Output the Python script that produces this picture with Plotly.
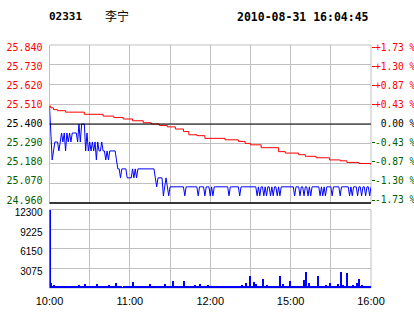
import plotly.graph_objects as go

# ---------------- data ----------------
minutes = list(range(241))  # trading minutes from 10:00 (0) to 16:00 (240)

price = [
    25.50, 25.35, 25.20, 25.25, 25.30, 25.30, 25.30, 25.25, 25.30, 25.35, 25.30, 25.35, 25.25, 25.35, 25.30, 25.35, 25.30, 25.35, 25.35, 25.35,
    25.35, 25.30, 25.40, 25.30, 25.40, 25.40, 25.40, 25.25, 25.35, 25.25, 25.30, 25.25, 25.30, 25.25, 25.30, 25.20, 25.30, 25.25, 25.25, 25.30,
    25.25, 25.25, 25.20, 25.25, 25.20, 25.25, 25.25, 25.25, 25.25, 25.25, 25.20, 25.15, 25.15, 25.10, 25.15, 25.15, 25.15, 25.15, 25.10, 25.10,
    25.10, 25.10, 25.15, 25.10, 25.15, 25.10, 25.15, 25.15, 25.15, 25.15, 25.15, 25.15, 25.15, 25.15, 25.15, 25.15, 25.15, 25.15, 25.15, 25.10,
    25.05, 25.10, 25.10, 25.10, 25.10, 25.00, 25.05, 25.10, 25.05, 25.00, 25.05, 25.05, 25.05, 25.05, 25.05, 25.05, 25.05, 25.05, 25.05, 25.05,
    25.05, 25.00, 25.05, 25.05, 25.05, 25.05, 25.05, 25.05, 25.05, 25.05, 25.05, 25.00, 25.05, 25.05, 25.05, 25.05, 25.00, 25.05, 25.05, 25.05,
    25.00, 25.05, 25.00, 25.05, 25.05, 25.05, 25.05, 25.05, 25.05, 25.05, 25.05, 25.05, 25.05, 25.05, 25.00, 25.05, 25.05, 25.05, 25.05, 25.05,
    25.05, 25.05, 25.00, 25.05, 25.05, 25.05, 25.05, 25.05, 25.05, 25.05, 25.05, 25.05, 25.05, 25.05, 25.05, 25.00, 25.05, 25.00, 25.05, 25.05,
    25.00, 25.05, 25.00, 25.05, 25.05, 25.00, 25.05, 25.00, 25.05, 25.05, 25.00, 25.05, 25.00, 25.05, 25.05, 25.05, 25.05, 25.05, 25.05, 25.05,
    25.05, 25.05, 25.05, 25.00, 25.05, 25.05, 25.05, 25.00, 25.05, 25.05, 25.00, 25.05, 25.05, 25.00, 25.05, 25.00, 25.05, 25.05, 25.05, 25.05,
    25.05, 25.05, 25.00, 25.05, 25.00, 25.05, 25.00, 25.05, 25.05, 25.05, 25.05, 25.00, 25.05, 25.05, 25.05, 25.05, 25.05, 25.00, 25.05, 25.05,
    25.05, 25.05, 25.05, 25.05, 25.00, 25.05, 25.00, 25.05, 25.05, 25.05, 25.00, 25.05, 25.05, 25.00, 25.05, 25.05, 25.00, 25.05, 25.05, 25.00,
    25.05,
]

avg_minutes = [0, 1, 3, 6, 12, 26, 40, 48, 55, 62, 70, 76, 82, 88, 94, 100, 104, 110, 116,
               131, 141, 146, 150, 158, 171, 176, 186, 191, 199, 209, 217, 222, 231, 240]
avg_price = [25.500, 25.490, 25.480, 25.474, 25.466, 25.454, 25.444, 25.436, 25.428, 25.418,
             25.407, 25.400, 25.392, 25.384, 25.372, 25.358, 25.340, 25.335, 25.320, 25.312,
             25.303, 25.292, 25.284, 25.268, 25.246, 25.238, 25.229, 25.220, 25.212, 25.200,
             25.195, 25.186, 25.180, 25.172]

volume = [
    12300, 800, 450, 600, 400, 450, 350, 450, 400, 380, 450, 420, 380, 450, 400, 350, 450, 420, 380, 450,
    400, 450, 500, 400, 450, 380, 650, 420, 400, 450, 380, 450, 420, 400, 450, 700, 420, 380, 450, 400,
    450, 400, 380, 450, 500, 420, 400, 450, 380, 830, 450, 400, 380, 450, 200, 420, 450, 400, 380, 450,
    420, 400, 1000, 450, 380, 420, 450, 400, 380, 450, 420, 400, 450, 380, 420, 650, 400, 450, 380, 420,
    450, 400, 380, 450, 420, 400, 700, 450, 380, 420, 400, 450, 1250, 420, 380, 450, 400, 420, 450, 380,
    1200, 420, 400, 450, 380, 420, 450, 400, 600, 420, 380, 450, 700, 400, 420, 150, 450, 380, 500, 420,
    400, 450, 380, 420, 450, 400, 380, 450, 420, 400, 450, 380, 420, 450, 400, 380, 450, 420, 400, 450,
    380, 420, 450, 600, 400, 450, 900, 420, 380, 2000, 450, 400, 1000, 420, 700, 380, 450, 420, 400, 1550,
    450, 380, 600, 420, 450, 400, 380, 450, 420, 400, 450, 380, 1900, 420, 700, 400, 450, 380, 420, 1100,
    450, 400, 380, 450, 420, 400, 450, 380, 420, 450, 1300, 2550, 400, 800, 420, 450, 380, 400, 450, 420,
    1900, 400, 380, 450, 420, 400, 600, 450, 380, 900, 420, 400, 450, 380, 420, 700, 400, 2550, 450, 600,
    420, 400, 2400, 450, 380, 420, 600, 400, 450, 800, 420, 1450, 400, 600, 450, 380, 420, 400, 450, 380,
    420,
]

prev_close = 25.40
price_ticks = [24.96, 25.07, 25.18, 25.29, 25.40, 25.51, 25.62, 25.73, 25.84]
price_labels = ["24.960", "25.070", "25.180", "25.290", "25.400", "25.510", "25.620", "25.730", "25.840"]
pct_labels = ["-1.73 %", "-1.30 %", "-0.87 %", "-0.43 %", "0.00 %", "+0.43 %", "+0.87 %", "+1.30 %", "+1.73 %"]
vol_ticks = [3075, 6150, 9225, 12300]
vol_labels = ["3075", "6150", "9225", "12300"]
grid_minutes = [0, 30, 60, 90, 120, 150, 180, 210, 240]
time_labels = ["10:00", "", "11:00", "", "12:00", "", "15:00", "", "16:00"]

code = "02331"
name = "李宁"
stamp = "2010-08-31 16:04:45"

# ---------------- style ----------------
RED = "#ff0000"
GREEN = "#006000"
BLACK = "#000000"
GRID = "#c0c0c0"
W, H = 414, 314
x_dom = [49.5 / W, 371 / W]
p_top, p_bot = 45, 203
p_dom = [1 - p_bot / H, 1 - p_top / H]
v_dom = [1 - 288 / H, 1 - 209.5 / H]
MONO = "DejaVu Sans Mono"
prange = [price_ticks[0], price_ticks[-1]]

# label scale: the reference prints price/percent labels slightly compressed
# (top label ~2.5px below its gridline, bottom one ~3px above)
lab_top, lab_bot = p_top + 2.5, p_bot - 3.0
step = price_ticks[1] - price_ticks[0]
px_per_step = (lab_bot - lab_top) / (len(price_ticks) - 1)
lab_hi = price_ticks[-1] + (lab_top - p_top) / px_per_step * step
lab_lo = price_ticks[-1] - (p_bot - lab_top) / px_per_step * step
lab_range = [lab_lo, lab_hi]


def col(v):
    if abs(v - prev_close) < 1e-9:
        return BLACK
    return RED if v > prev_close else GREEN


left_text = [f'<span style="color:{col(v)}">{t}</span>' for v, t in zip(price_ticks, price_labels)]

fig = go.Figure()
fig.add_trace(go.Scatter(x=avg_minutes, y=avg_price, mode="lines", line=dict(color=RED, width=1, shape="hv"),
                         xaxis="x", yaxis="y", hoverinfo="skip"))
fig.add_trace(go.Scatter(x=minutes, y=price, mode="lines", line=dict(color="#0000ff", width=1),
                         xaxis="x", yaxis="y", hoverinfo="skip"))
fig.add_trace(go.Bar(x=minutes, y=volume, width=0.8, marker=dict(color="#0000ff", line=dict(width=0)),
                     xaxis="x2", yaxis="y2", hoverinfo="skip"))
# invisible carriers so the label-only axes are drawn
for ax in ("y3", "y4", "y5", "y6"):
    fig.add_trace(go.Scatter(x=minutes[:2], y=price[:2], mode="lines", line=dict(width=0, color="rgba(0,0,0,0)"),
                             opacity=0, xaxis="x", yaxis=ax, hoverinfo="skip"))

pos_i = [i for i, v in enumerate(price_ticks) if v > prev_close + 1e-9]
neg_i = [i for i, v in enumerate(price_ticks) if v < prev_close - 1e-9]
zero_i = [i for i, v in enumerate(price_ticks) if abs(v - prev_close) < 1e-9]

common_right = dict(overlaying="y", side="right", anchor="x", range=lab_range, showgrid=False, automargin=False,
                    zeroline=False, showline=False, ticks="outside", ticklen=3, tickwidth=1,
                    ticklabelstandoff=-2)

fig.update_layout(
    width=W, height=H, margin=dict(l=0, r=0, t=0, b=0, autoexpand=False),
    paper_bgcolor="white", plot_bgcolor="white", showlegend=False, bargap=0,
    xaxis=dict(domain=x_dom, anchor="y", range=[0, 240], tickvals=grid_minutes, showticklabels=False,
               automargin=False,
               showgrid=True, gridcolor=GRID, gridwidth=1, zeroline=False, showline=False, ticks=""),
    yaxis=dict(domain=p_dom, anchor="x", range=prange, tickvals=price_ticks, showticklabels=False,
               automargin=False, showgrid=True, gridcolor=GRID, gridwidth=1,
               zeroline=False, showline=False, ticks=""),
    yaxis6=dict(overlaying="y", side="left", anchor="x", range=lab_range, tickvals=price_ticks,
                ticktext=left_text, automargin=False, showgrid=False, zeroline=False, showline=False,
                tickfont=dict(family=MONO, size=10), ticks="outside", ticklen=4,
                tickcolor="rgba(0,0,0,0)"),
    yaxis3=dict(common_right, tickvals=[price_ticks[i] for i in pos_i],
                ticktext=[pct_labels[i] for i in pos_i], tickcolor=RED,
                tickfont=dict(family=MONO, size=9.6, color=RED)),
    yaxis4=dict(common_right, tickvals=[price_ticks[i] for i in neg_i],
                ticktext=[pct_labels[i] for i in neg_i], tickcolor=GREEN,
                tickfont=dict(family=MONO, size=9.6, color=GREEN)),
    yaxis5=dict(common_right, tickvals=[price_ticks[i] for i in zero_i],
                ticktext=["\u00a0" + pct_labels[i] for i in zero_i], tickcolor="rgba(0,0,0,0)",
                tickfont=dict(family=MONO, size=9.6, color=BLACK)),
    xaxis2=dict(domain=x_dom, anchor="y2", range=[0, 240], tickvals=grid_minutes, ticktext=time_labels,
                automargin=False,
                tickfont=dict(family="Liberation Sans", size=11, color=BLACK), showgrid=True,
                gridcolor=GRID, gridwidth=1, zeroline=False, showline=False, ticks="outside",
                ticklen=3, tickcolor="rgba(0,0,0,0)"),
    yaxis2=dict(domain=v_dom, anchor="x2", range=[0, vol_ticks[-1]], tickvals=vol_ticks, ticktext=vol_labels,
                automargin=False, ticklabelshift=3,
                tickfont=dict(family="Liberation Sans", size=10, color=BLACK), showgrid=True,
                gridcolor=GRID, gridwidth=1, zeroline=False, showline=False, ticks="outside",
                ticklen=4, tickcolor="rgba(0,0,0,0)"),
)

shapes = [
    dict(type="rect", xref="x domain", yref="y domain", x0=0, x1=1, y0=0, y1=1,
         line=dict(color=GRID, width=1), layer="below"),
    dict(type="rect", xref="x2 domain", yref="y2 domain", x0=0, x1=1, y0=0, y1=1,
         line=dict(color=GRID, width=1), layer="below"),
    dict(type="line", xref="x domain", yref="y", x0=0, x1=1, y0=prev_close, y1=prev_close,
         line=dict(color=BLACK, width=1)),
    dict(type="line", xref="x domain", yref="y domain", x0=0, x1=1, y0=0, y1=0,
         line=dict(color=BLACK, width=1.5)),
]
fig.update_layout(shapes=shapes)

fig.add_annotation(text=code, xref="paper", yref="paper", x=84 / W, y=1 - 16.5 / H, xanchor="right",
                   yanchor="middle", showarrow=False, font=dict(family=MONO, size=11, color=BLACK, weight="bold"))
fig.add_annotation(text=name, xref="paper", yref="paper", x=103 / W, y=1 - 16 / H, xanchor="left",
                   yanchor="middle", showarrow=False, font=dict(family="Noto Sans CJK SC", size=12, color=BLACK))
fig.add_annotation(text=stamp, xref="paper", yref="paper", x=371 / W, y=1 - 16.5 / H, xanchor="right",
                   yanchor="middle", showarrow=False, font=dict(family=MONO, size=11.5, color=BLACK, weight="bold"))

fig.write_html("out.html")
